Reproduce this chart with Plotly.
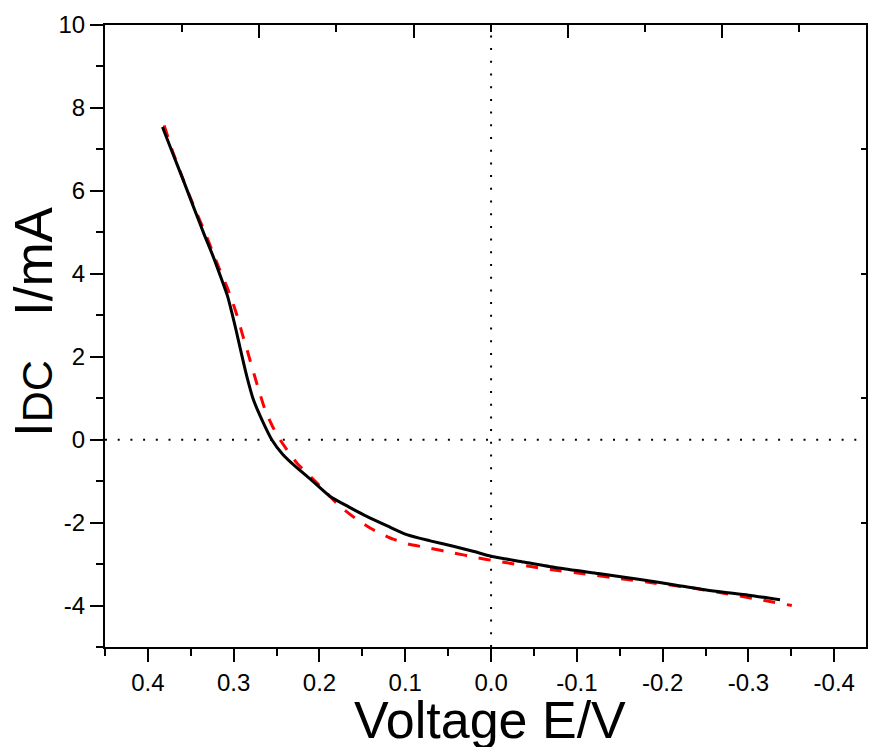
import plotly.graph_objects as go

# ---- data ----
black_x = [0.383, 0.371, 0.359, 0.347, 0.335, 0.324, 0.314, 0.307, 0.302, 0.297, 0.2925,
           0.285, 0.277, 0.266, 0.2556, 0.243, 0.2284, 0.208, 0.1876, 0.166, 0.1449,
           0.121, 0.0983, 0.071, 0.044, 0.021, 0.0, -0.038, -0.0766, -0.125, -0.1737,
           -0.216, -0.259, -0.30, -0.3368]
black_y = [7.54, 6.90, 6.27, 5.62, 4.98, 4.42, 3.86, 3.45, 3.05, 2.62, 2.21,
           1.55, 0.96, 0.43, 0.0, -0.35, -0.64, -1.00, -1.37, -1.62, -1.85,
           -2.08, -2.29, -2.44, -2.57, -2.69, -2.81, -2.95, -3.09, -3.23, -3.37,
           -3.51, -3.65, -3.75, -3.86]

red_x = [0.381, 0.372, 0.3625, 0.353, 0.343, 0.334, 0.3255, 0.317, 0.308, 0.301, 0.2945,
         0.290, 0.285, 0.274, 0.2634, 0.255, 0.246, 0.2265, 0.207, 0.191, 0.176, 0.158,
         0.141, 0.129, 0.114, 0.098, 0.071, 0.044, 0.018, -0.0066, -0.0688, -0.110,
         -0.150, -0.191, -0.232, -0.273, -0.3135, -0.3505]
red_y = [7.58, 7.00, 6.47, 5.96, 5.46, 5.02, 4.58, 4.13, 3.69, 3.30, 2.89,
         2.55, 2.21, 1.42, 0.72, 0.33, 0.0, -0.56, -0.96, -1.30, -1.61, -1.90,
         -2.13, -2.26, -2.40, -2.51, -2.62, -2.73, -2.84, -2.93, -3.13, -3.24,
         -3.35, -3.46, -3.57, -3.71, -3.86, -4.00]

x_tick_vals = [0.4, 0.3, 0.2, 0.1, 0.0, -0.1, -0.2, -0.3, -0.4]
x_tick_text = ["0.4", "0.3", "0.2", "0.1", "0.0", "-0.1", "-0.2", "-0.3", "-0.4"]
y_tick_vals = [10, 8, 6, 4, 2, 0, -2, -4]
y_tick_text = ["10", "8", "6", "4", "2", "0", "-2", "-4"]

x_range = [0.45, -0.437]
y_range = [-5, 10]
ref_x = 0.0
ref_y = 0.0

FONT = "Liberation Sans, Arial, sans-serif"

fig = go.Figure()
fig.add_trace(go.Scatter(x=red_x, y=red_y, mode="lines",
                         line=dict(color="#ff0000", width=3, dash="12px,12px",
                                   shape="spline", smoothing=0.6),
                         showlegend=False, hoverinfo="skip"))
fig.add_trace(go.Scatter(x=black_x, y=black_y, mode="lines",
                         line=dict(color="black", width=3, shape="spline", smoothing=0.6),
                         showlegend=False, hoverinfo="skip"))
# empty trace so that the top / right frame axes get drawn
fig.add_trace(go.Scatter(x=[], y=[], xaxis="x2", yaxis="y2", mode="lines",
                         showlegend=False, hoverinfo="skip"))

# dotted reference lines
fig.add_shape(type="line", xref="x", yref="paper", x0=ref_x, x1=ref_x, y0=0, y1=1,
              line=dict(color="black", width=2, dash="2px,10.7px"), layer="below")
fig.add_shape(type="line", xref="paper", yref="y", x0=0, x1=1, y0=ref_y, y1=ref_y,
              line=dict(color="black", width=2, dash="2px,10.7px"), layer="below")

axis_common = dict(showgrid=False, zeroline=False, showline=True, linecolor="black",
                   linewidth=2, tickcolor="black", tickwidth=2,
                   tickfont=dict(family=FONT, size=24, color="black"))

fig.update_layout(
    width=869, height=747,
    margin=dict(l=105, r=3, t=25, b=100),
    paper_bgcolor="white", plot_bgcolor="white",
    font=dict(family=FONT, color="black"),
    xaxis=dict(range=x_range, tickmode="array", tickvals=x_tick_vals, ticktext=x_tick_text,
               ticks="outside", ticklen=13,
               minor=dict(dtick=0.05, tick0=0, ticks="outside", ticklen=7,
                          tickwidth=2, tickcolor="black"),
               **axis_common),
    yaxis=dict(range=y_range, tickmode="array", tickvals=y_tick_vals, ticktext=y_tick_text,
               ticks="outside", ticklen=13,
               minor=dict(dtick=1, tick0=0, ticks="outside", ticklen=7,
                          tickwidth=2, tickcolor="black"),
               **axis_common),
    xaxis2=dict(overlaying="x", side="top", anchor="y", range=[0, 4.932],
                tickmode="linear", tick0=0, dtick=1, ticks="inside", ticklen=13,
                showticklabels=False,
                minor=dict(dtick=0.5, tick0=0, ticks="inside", ticklen=7,
                           tickwidth=2, tickcolor="black"),
                **axis_common),
    yaxis2=dict(overlaying="y", side="right", anchor="x", range=[0, 5],
                tickmode="linear", tick0=0, dtick=1, ticks="inside", ticklen=5,
                showticklabels=False, **axis_common),
)

fig.add_annotation(text="Voltage E/V", xref="paper", yref="paper",
                   x=0.506, y=-0.118, xanchor="center", yanchor="middle",
                   showarrow=False, font=dict(family=FONT, size=52, color="black"))
fig.add_annotation(text="I<span style='font-size:43px'>DC</span>&nbsp;&nbsp;&nbsp;I/mA",
                   xref="paper", yref="paper", x=-0.0946, y=0.5225,
                   xanchor="center", yanchor="middle", textangle=-90,
                   showarrow=False, font=dict(family=FONT, size=53, color="black"))

fig.write_html("out.html")
